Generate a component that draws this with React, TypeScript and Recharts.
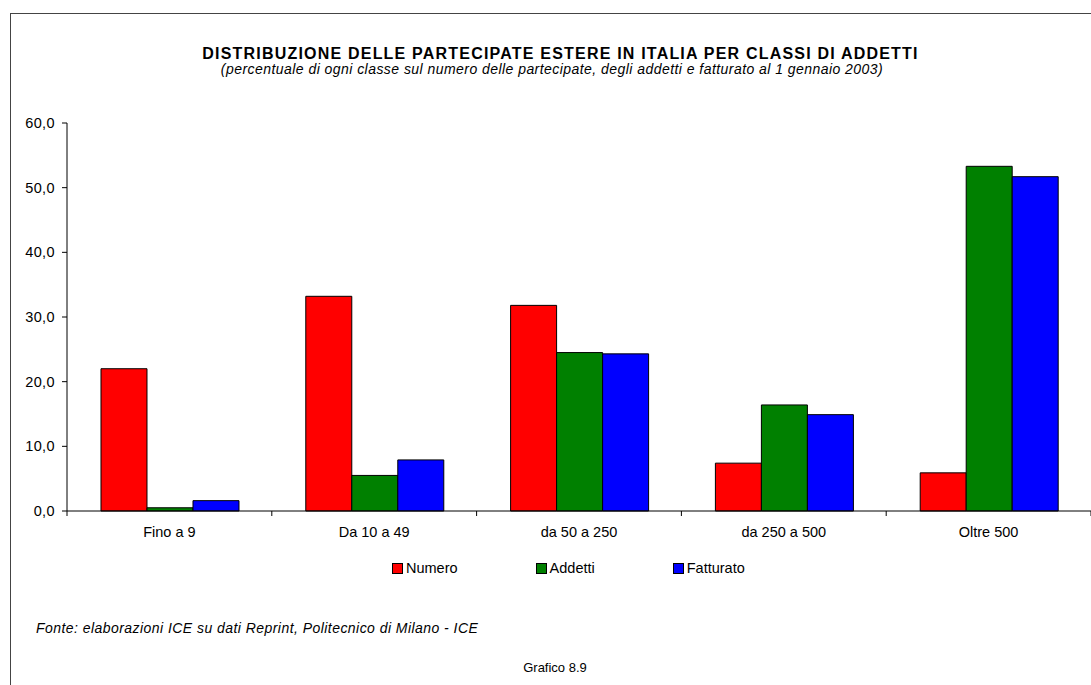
import { BarChart, Bar, XAxis, YAxis } from 'recharts';

const categories = ['Fino a 9', 'Da 10 a 49', 'da 50 a 250', 'da 250 a 500', 'Oltre 500'];
const numero = [22.0, 33.2, 31.8, 7.4, 5.9];
const addetti = [0.5, 5.5, 24.5, 16.4, 53.3];
const fatturato = [1.6, 7.9, 24.3, 14.9, 51.7];
const yTicks = [0, 10, 20, 30, 40, 50, 60];

const series = [
    { key: 'numero', name: 'Numero', color: '#FF0000' },
    { key: 'addetti', name: 'Addetti', color: '#008000' },
    { key: 'fatturato', name: 'Fatturato', color: '#0000FF' },
];

const data = categories.map((c, i) => ({
    name: c,
    numero: numero[i],
    addetti: addetti[i],
    fatturato: fatturato[i],
}));

const W = 1091;
const H = 685;
const PLOT_LEFT = 67;
const BAND = (W - PLOT_LEFT) / categories.length;
const FONT = '"Liberation Sans", Arial, sans-serif';

function CategoryTick(props: any) {
    const { x, y, payload, index } = props;
    return (
        <g>
            <line x1={x - BAND / 2} y1={y} x2={x - BAND / 2} y2={y + 5} stroke="#000" />
            {index === categories.length - 1 && (
                <line x1={x + BAND / 2} y1={y} x2={x + BAND / 2} y2={y + 5} stroke="#000" />
            )}
            <text x={x} y={y + 26} textAnchor="middle" fontSize={14.5} fill="#000" fontFamily={FONT}>
                {payload.value}
            </text>
        </g>
    );
}

export default function App() {
    return (
        <div style={{ position: 'absolute', left: 0, top: 0, width: W, height: H, overflow: 'hidden', background: '#fff', fontFamily: FONT }}>
            <div style={{ position: 'absolute', left: 10, top: 13, width: 2000, height: 2000, border: '1px solid #444' }} />
            <div style={{ position: 'absolute', left: 0, width: 1121, top: 45, textAlign: 'center', fontWeight: 'bold', fontSize: 16, letterSpacing: 1.2 }}>
                DISTRIBUZIONE DELLE PARTECIPATE ESTERE IN ITALIA PER CLASSI DI ADDETTI
            </div>
            <div style={{ position: 'absolute', left: 0, width: 1104, top: 61, textAlign: 'center', fontStyle: 'italic', fontSize: 14, letterSpacing: 0.45 }}>
                (percentuale di ogni classe sul numero delle partecipate, degli addetti e fatturato al 1 gennaio 2003)
            </div>
            <div style={{ position: 'absolute', left: 0, top: 0 }}>
                <BarChart
                    width={W}
                    height={H}
                    data={data}
                    margin={{ top: 123, right: 0, bottom: 144, left: 0 }}
                    barCategoryGap="16.6%"
                    barGap={0}
                >
                    <XAxis
                        dataKey="name"
                        height={30}
                        axisLine={{ stroke: '#000' }}
                        tickLine={false}
                        tickSize={0}
                        tickMargin={0}
                        tick={CategoryTick}
                        interval={0}
                    />
                    <YAxis
                        width={67}
                        domain={[0, 60]}
                        ticks={yTicks}
                        interval={0}
                        axisLine={{ stroke: '#000' }}
                        tickLine={{ stroke: '#000' }}
                        tickSize={5}
                        tickMargin={7}
                        tickFormatter={(v: number) => v.toFixed(1).replace('.', ',')}
                        tick={{ fill: '#000', fontSize: 14.5, fontFamily: FONT, letterSpacing: 0.4 }}
                    />
                    {series.map((s) => (
                        <Bar key={s.key} dataKey={s.key} name={s.name} fill={s.color} stroke="#000" strokeWidth={1} isAnimationActive={false} />
                    ))}
                </BarChart>
            </div>
            <div style={{ position: 'absolute', left: 392, top: 560, display: 'flex', gap: 78, fontSize: 14.5 }}>
                {series.map((s) => (
                    <div key={s.key} style={{ display: 'flex', alignItems: 'center' }}>
                        <div style={{ width: 9, height: 9, background: s.color, border: '1px solid #000', marginRight: 3 }} />
                        <span>{s.name}</span>
                    </div>
                ))}
            </div>
            <div style={{ position: 'absolute', left: 36, top: 620, fontStyle: 'italic', fontSize: 14, letterSpacing: 0.45 }}>
                Fonte: elaborazioni ICE su dati Reprint, Politecnico di Milano - ICE
            </div>
            <div style={{ position: 'absolute', left: 0, width: 1110, top: 660, textAlign: 'center', fontSize: 13 }}>
                Grafico 8.9
            </div>
        </div>
    );
}
